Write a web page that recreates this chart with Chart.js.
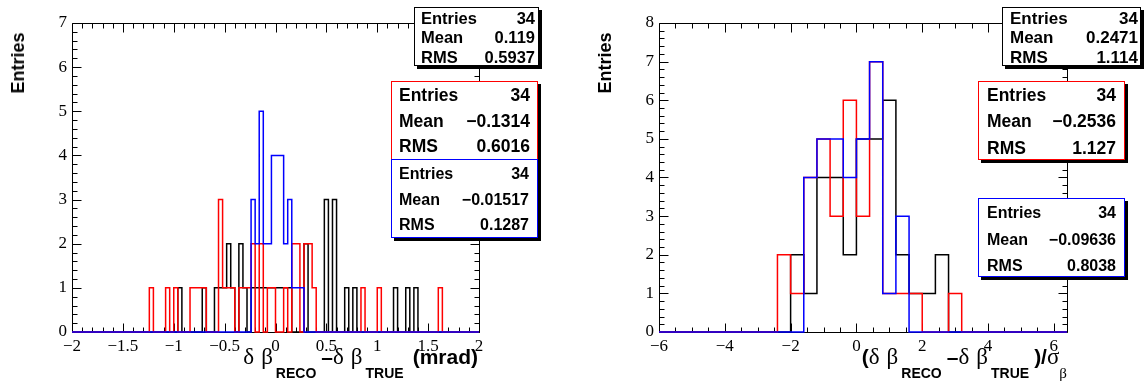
<!DOCTYPE html>
<html>
<head>
<meta charset="utf-8">
<script src="https://cdn.jsdelivr.net/npm/chart.js@4.4.0/dist/chart.umd.min.js"></script>
<style>
  body { margin:0; background:#fff; width:1148px; height:383px; overflow:hidden; position:relative;
         font-family:"Liberation Sans", Arial, sans-serif; }
  .pane { position:absolute; top:0; width:574px; height:383px; }
  .stat { position:absolute; background:#fff; border:1px solid #000; box-shadow:3px 3px 0 #000;
          box-sizing:border-box; font-weight:bold; color:#000; }
  .stat .row { position:absolute; white-space:nowrap; line-height:1; }
  .title { position:absolute; font-weight:bold; white-space:nowrap; color:#000; line-height:1; }
  .title .g { font-family:"Liberation Serif", serif; font-weight:normal; font-size:23px; }
  .title .gap { margin-left:7px; }
  .title sub { font-size:14px; vertical-align:-14px; margin-left:3px; margin-right:5px; }
  .ytitle { position:absolute; font-weight:bold; font-size:18px; white-space:nowrap; line-height:1;
            transform:translate(-50%,-50%) rotate(-90deg); }
</style>
</head>
<body>
<div class="pane" style="left:0"><canvas id="c1" width="574" height="383"></canvas></div>
<div class="pane" style="left:574px"><canvas id="c2" width="574" height="383"></canvas></div>

<div class="ytitle" style="left:18px; top:63px">Entries</div>
<div class="ytitle" style="left:605px; top:63px">Entries</div>

<div class="title" style="right:670px; top:345px; font-size:21px"><span class="g">δ</span><span class="g gap">β</span><sub>RECO</sub>–<span class="g">δ</span><span class="g gap">β</span><sub>TRUE</sub><span style="margin-left:4px">(mrad)</span></div>
<div class="title" style="right:76px; top:345px; font-size:21px">(<span class="g">δ</span><span class="g gap">β</span><sub>RECO</sub>–<span class="g">δ</span><span class="g gap">β</span><sub>TRUE</sub>)/<span class="g">σ</span><sub class="g" style="font-size:15px;margin-left:0">β</sub></div>

<script>
// ---------- left panel: δβ reco - true (mrad), 100 bins of 0.04 from -2 to 2 ----------
const leftMin = -2, leftMax = 2, leftBin = 0.04;
const leftXTicks = [-2, -1.5, -1, -0.5, 0, 0.5, 1, 1.5, 2];
const leftYTicks = [0, 1, 2, 3, 4, 5, 6, 7];

// non-empty bins: lower edge + entries
const leftBlackLo = [-0.96, -0.72, -0.60, -0.56, -0.52, -0.48, -0.44, -0.36, -0.32, -0.24, -0.20, -0.16, -0.12, -0.08,
                     -0.04, 0.00, 0.04, 0.08, 0.12, 0.28, 0.48, 0.56, 0.68, 0.76, 1.16, 1.28, 1.36];
const leftBlackN  = [1, 1, 1, 1, 1, 2, 1, 2, 1, 1, 1, 1, 1, 1,
                     1, 1, 1, 1, 1, 2, 3, 3, 1, 1, 1, 1, 1];
const leftRedLo = [-1.24, -1.08, -1.00, -0.84, -0.80, -0.76, -0.72, -0.56, -0.52, -0.48, -0.44, -0.36, -0.32, -0.28,
                   -0.24, -0.16, -0.08, -0.04, 0.08, 0.16, 0.20, 0.28, 0.32, 0.36, 0.84, 1.00, 1.60];
const leftRedN  = [1, 1, 1, 1, 1, 1, 1, 3, 1, 1, 1, 1, 1, 1,
                   2, 2, 1, 1, 1, 2, 2, 2, 2, 1, 1, 1, 1];
const leftBlueLo = [-0.24, -0.20, -0.16, -0.12, -0.08, -0.04, 0.00, 0.04, 0.08, 0.12, 0.16, 0.20, 0.24];
const leftBlueN  = [3, 2, 5, 2, 2, 4, 4, 4, 2, 3, 1, 1, 1];

// ---------- right panel: pull, 31 bins of 0.4 from -6 to 6.4 ----------
const rightMin = -6, rightMax = 6.4, rightBin = 0.4;
const rightXTicks = [-6, -4, -2, 0, 2, 4, 6];
const rightYTicks = [0, 1, 2, 3, 4, 5, 6, 7, 8];
const rightBlackLo = [-2.0, -1.6, -1.2, -0.8, -0.4, 0.0, 0.4, 0.8, 1.2, 1.6, 2.0, 2.4];
const rightBlackN  = [2, 1, 4, 4, 2, 5, 5, 6, 2, 1, 1, 2];
const rightRedLo = [-2.4, -2.0, -1.6, -1.2, -0.8, -0.4, 0.0, 0.4, 0.8, 1.2, 1.6, 2.8];
const rightRedN  = [2, 1, 4, 5, 3, 6, 3, 7, 1, 1, 1, 1];
const rightBlueLo = [-1.6, -1.2, -0.8, -0.4, 0.0, 0.4, 0.8, 1.2];
const rightBlueN  = [4, 5, 5, 4, 5, 7, 1, 3];

// stat boxes
const statNames = ['Entries', 'Mean', 'RMS'];
const leftBlackStats = ['34', '0.119', '0.5937'];
const leftRedStats = ['34', '\u22120.1314', '0.6016'];
const leftBlueStats = ['34', '\u22120.01517', '0.1287'];
const rightBlackStats = ['34', '0.2471', '1.114'];
const rightRedStats = ['34', '\u22120.2536', '1.127'];
const rightBlueStats = ['34', '\u22120.09636', '0.8038'];

// build step points: one point per bin low edge, closing point at the upper range edge
function histPoints(min, max, w, los, ns) {
  const nb = Math.round((max - min) / w);
  const counts = new Array(nb).fill(0);
  los.forEach((lo, k) => { counts[Math.round((lo - min) / w)] += ns[k]; });
  const pts = counts.map((c, i) => ({ x: min + i * w, y: c }));
  pts.push({ x: max, y: 0 });
  return pts;
}

// ROOT-like frame: box + inward ticks on all four sides
const rootFrame = {
  id: 'rootFrame',
  beforeDatasetsDraw(chart, args, o) {
    const { ctx, chartArea: a, scales: { x, y } } = chart;
    ctx.save();
    ctx.strokeStyle = '#000';
    ctx.lineWidth = 1;
    ctx.beginPath();
    const L = Math.round(a.left) + 0.5, R = Math.round(a.right) + 0.5;
    const T = Math.round(a.top) + 0.5, B = Math.round(a.bottom) + 0.5;
    ctx.rect(L, T, R - L, B - T);
    const eps = 1e-9;
    for (let v = o.xMin; v <= o.xMax + eps; v += o.xMinor) {
      const isMaj = Math.abs(v / o.xMajor - Math.round(v / o.xMajor)) < 1e-6;
      const len = isMaj ? o.majLen : o.minLen;
      const px = Math.round(x.getPixelForValue(v)) + 0.5;
      ctx.moveTo(px, B); ctx.lineTo(px, B - len);
      ctx.moveTo(px, T); ctx.lineTo(px, T + len);
    }
    for (let v = o.yMin; v <= o.yMax + eps; v += o.yMinor) {
      const isMaj = Math.abs(v / o.yMajor - Math.round(v / o.yMajor)) < 1e-6;
      const len = isMaj ? o.majLen : o.minLen;
      const py = Math.round(y.getPixelForValue(v)) + 0.5;
      ctx.moveTo(L, py); ctx.lineTo(L + len, py);
      ctx.moveTo(R, py); ctx.lineTo(R - len, py);
    }
    ctx.stroke();
    ctx.restore();
  }
};

const fmt = v => String(+v.toFixed(2)).replace('-', '\u2212');

function makeChart(id, cfg) {
  const ds = (label, pts, color) => ({
    label, data: pts, borderColor: color, borderWidth: 1.5, pointRadius: 0,
    stepped: true, fill: false, clip: 3, tension: 0
  });
  return new Chart(document.getElementById(id), {
    type: 'line',
    data: {
      datasets: [
        ds('blue', histPoints(cfg.min, cfg.max, cfg.bin, cfg.blueLo, cfg.blueN), '#0000ff'),
        ds('red', histPoints(cfg.min, cfg.max, cfg.bin, cfg.redLo, cfg.redN), '#ff0000'),
        ds('black', histPoints(cfg.min, cfg.max, cfg.bin, cfg.blackLo, cfg.blackN), '#000000')
      ]
    },
    options: {
      responsive: false, animation: false, events: [],
      layout: { padding: { top: cfg.padTop, right: cfg.padRight, left: 0, bottom: 0 } },
      plugins: {
        legend: { display: false }, tooltip: { enabled: false },
        rootFrame: {
          xMin: cfg.min, xMax: cfg.max, xMajor: cfg.xMajor, xMinor: cfg.xMinor,
          yMin: 0, yMax: cfg.yMax, yMajor: 1, yMinor: 0.2, majLen: 9, minLen: 5
        }
      },
      scales: {
        x: {
          type: 'linear', min: cfg.min, max: cfg.max,
          grid: { display: false, drawTicks: false }, border: { display: false },
          afterBuildTicks: s => { s.ticks = cfg.xTicks.map(v => ({ value: v })); },
          afterFit: s => { s.height = cfg.xAxisH; },
          ticks: { color: '#000', padding: 4, maxRotation: 0, autoSkip: false,
                   font: { family: 'Liberation Serif', size: 17 }, callback: fmt }
        },
        y: {
          type: 'linear', min: 0, max: cfg.yMax,
          grid: { display: false, drawTicks: false }, border: { display: false },
          afterBuildTicks: s => { s.ticks = cfg.yTicks.map(v => ({ value: v })); },
          afterFit: s => { s.width = cfg.yAxisW; },
          ticks: { color: '#000', padding: 5, autoSkip: false,
                   font: { family: 'Liberation Serif', size: 17 }, callback: fmt }
        }
      }
    },
    plugins: [rootFrame]
  });
}

makeChart('c1', {
  min: leftMin, max: leftMax, bin: leftBin, yMax: 7, xTicks: leftXTicks, yTicks: leftYTicks,
  xMajor: 0.5, xMinor: 0.1,
  blackLo: leftBlackLo, blackN: leftBlackN, redLo: leftRedLo, redN: leftRedN, blueLo: leftBlueLo, blueN: leftBlueN,
  padTop: 23, padRight: 95, yAxisW: 72, xAxisH: 51
});
makeChart('c2', {
  min: rightMin, max: rightMax, bin: rightBin, yMax: 8, xTicks: rightXTicks, yTicks: rightYTicks,
  xMajor: 2, xMinor: 0.5,
  blackLo: rightBlackLo, blackN: rightBlackN, redLo: rightRedLo, redN: rightRedN, blueLo: rightBlueLo, blueN: rightBlueN,
  padTop: 23, padRight: 81, yAxisW: 85, xAxisH: 51
});

// stat boxes (ROOT TPaveStats look)
function statBox(left, top, right, bottom, color, values, fontSize, firstRow, rowStep, padL, padR) {
  const box = document.createElement('div');
  box.className = 'stat';
  box.style.cssText = `left:${left}px;top:${top}px;width:${right - left}px;height:${bottom - top}px;` +
                      `border-color:${color};font-size:${fontSize}px`;
  statNames.forEach((name, i) => {
    const cy = firstRow + i * rowStep - top - 1 - fontSize / 2;
    const l = document.createElement('div');
    l.className = 'row'; l.textContent = name;
    l.style.cssText = `left:${padL}px;top:${cy}px`;
    const r = document.createElement('div');
    r.className = 'row'; r.textContent = values[i];
    r.style.cssText = `right:${padR}px;top:${cy}px`;
    box.appendChild(l); box.appendChild(r);
  });
  document.body.appendChild(box);
}

statBox(414, 7, 539, 66, '#000', leftBlackStats, 16.5, 18, 19.5, 6, 3);
statBox(391, 81, 538, 160, '#ff0000', leftRedStats, 17.5, 96, 25.5, 7, 7);
statBox(391, 159, 538, 238, '#0000ff', leftBlueStats, 16, 174, 25.7, 7, 8);
statBox(1002, 7, 1141, 66, '#000', rightBlackStats, 17, 18.3, 19.5, 7, 2);
statBox(978, 81, 1125, 160, '#ff0000', rightRedStats, 17.5, 95.7, 26.5, 8, 8);
statBox(978, 198, 1125, 277, '#0000ff', rightBlueStats, 16, 213.3, 26.2, 8, 8);
</script>
</body>
</html>
